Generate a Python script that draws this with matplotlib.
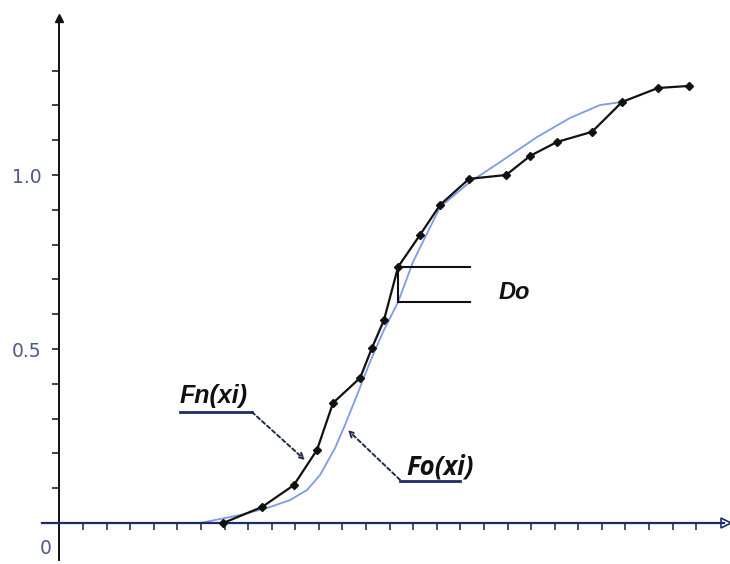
import numpy as np
import matplotlib
matplotlib.use("Agg")
import matplotlib.pyplot as plt

# Empirical distribution Fn(xi): sample points (x, cumulative value)
fn_x = [6.94, 8.59, 9.94, 10.92, 11.60, 12.75, 13.25, 13.76, 14.36, 15.29,
        16.14, 17.37, 18.94, 19.96, 21.10, 22.58, 23.86, 25.38, 26.70]
fn_y = [0.0, 0.046, 0.109, 0.21, 0.345, 0.417, 0.503, 0.583, 0.736, 0.828,
        0.914, 0.989, 1.0, 1.055, 1.095, 1.124, 1.21, 1.25, 1.256]

# Theoretical distribution Fo(xi)
fo_x = [5.96, 7.66, 8.80, 9.78, 10.50, 11.05, 11.69, 12.11, 12.62, 13.17,
        13.72, 14.36, 14.99, 16.14, 17.41, 18.81, 20.25, 21.65, 22.92, 23.86]
fo_y = [0.0, 0.023, 0.043, 0.066, 0.095, 0.138, 0.216, 0.282, 0.368, 0.463,
        0.549, 0.635, 0.75, 0.908, 0.98, 1.043, 1.109, 1.164, 1.201, 1.21]

# Index of the largest deviation D0
d0_index = 8

y_ticks = [0.1, 0.2, 0.3, 0.4, 0.5, 0.6, 0.7, 0.8, 0.9, 1.0, 1.1, 1.2, 1.3]
y_labels = {0.5: "0.5", 1.0: "1.0"}
x_ticks = list(range(1, 28))

fig = plt.figure(figsize=(7.30, 5.64), dpi=100)
ax = fig.add_axes([0, 0, 1, 1])
ax.set_xlim(-2.523, 28.435)
ax.set_ylim(-0.1178, 1.5029)

navy = "#1c2b6b"
label_col = "#4a5a80"

# Axes through the origin
for s in ("top", "right"):
    ax.spines[s].set_visible(False)
ax.spines["left"].set_position(("data", 0))
ax.spines["bottom"].set_position(("data", 0))
ax.spines["left"].set_bounds(-0.106, 1.45)
ax.spines["bottom"].set_bounds(-0.75, 28.2)
ax.spines["left"].set_color("#111111")
ax.spines["bottom"].set_color(navy)
ax.spines["left"].set_linewidth(1.4)
ax.spines["bottom"].set_linewidth(1.6)

ax.set_yticks(y_ticks)
ax.set_yticklabels([y_labels.get(round(t, 1), "") for t in y_ticks])
ax.set_xticks(x_ticks)
ax.set_xticklabels([])
ax.tick_params(axis="y", direction="out", length=5, width=1.2, colors="#222222",
               labelcolor=label_col, labelsize=13.5, pad=8)
ax.tick_params(axis="x", direction="out", length=5, width=1.2, colors="#333333")

# Axis arrowheads
ax.plot([28.25], [0], marker=">", ms=7, mfc="none", mec=navy, mew=1.2, clip_on=False)
ax.plot([0], [1.45], marker="^", ms=6, color="#111111", clip_on=False)
ax.text(-0.6, -0.072, "0", color=label_col, fontsize=13.5, ha="center", va="center")

# Curves
ax.plot(fo_x, fo_y, color="#7f9be6", lw=1.3, zorder=2)
ax.plot(fn_x, fn_y, color="#111111", lw=1.6, marker="D", ms=4.5, zorder=3)

# D0 bracket
xd = fn_x[d0_index]
fn_d = fn_y[d0_index]
fo_d = float(np.interp(xd, fo_x, fo_y))
x_end = 17.41
ax.plot([xd, x_end], [fn_d, fn_d], color="#111111", lw=1.5)
ax.plot([xd, xd], [fn_d, fo_d], color="#111111", lw=1.5)
ax.plot([xd, x_end], [fo_d, fo_d], color="#111111", lw=1.5)
ax.text(18.6, 0.644, "Do", fontsize=17, fontweight="bold", fontstyle="italic",
        family="Liberation Sans", color="#111111", va="baseline")

# Fn(xi) label with leader arrow
ax.text(5.11, 0.345, "Fn(xi)", fontsize=18, fontweight="bold", fontstyle="italic",
        family="Liberation Sans", color="#111111", va="baseline")
ax.plot([5.11, 8.16], [0.319, 0.319], color=navy, lw=2)
ax.annotate("", xy=(10.41, 0.181), xytext=(8.16, 0.319),
            arrowprops=dict(arrowstyle="->", color="#1f2a4a", lw=1.4,
                            linestyle=(0, (2, 1.5)), shrinkA=0, shrinkB=0))

# Fo(xi) label with leader arrow
ax.text(14.72, 0.138, "Fo(xi)", fontsize=18.5, fontweight="bold", fontstyle="italic",
        family="Open Sans", color="#111111", va="baseline")
ax.plot([14.44, 16.98], [0.121, 0.121], color=navy, lw=2)
ax.annotate("", xy=(12.23, 0.267), xytext=(14.44, 0.124),
            arrowprops=dict(arrowstyle="->", color="#1f2a4a", lw=1.4,
                            linestyle=(0, (2, 1.5)), shrinkA=0, shrinkB=0))

fig.savefig("out.png", dpi=100)
